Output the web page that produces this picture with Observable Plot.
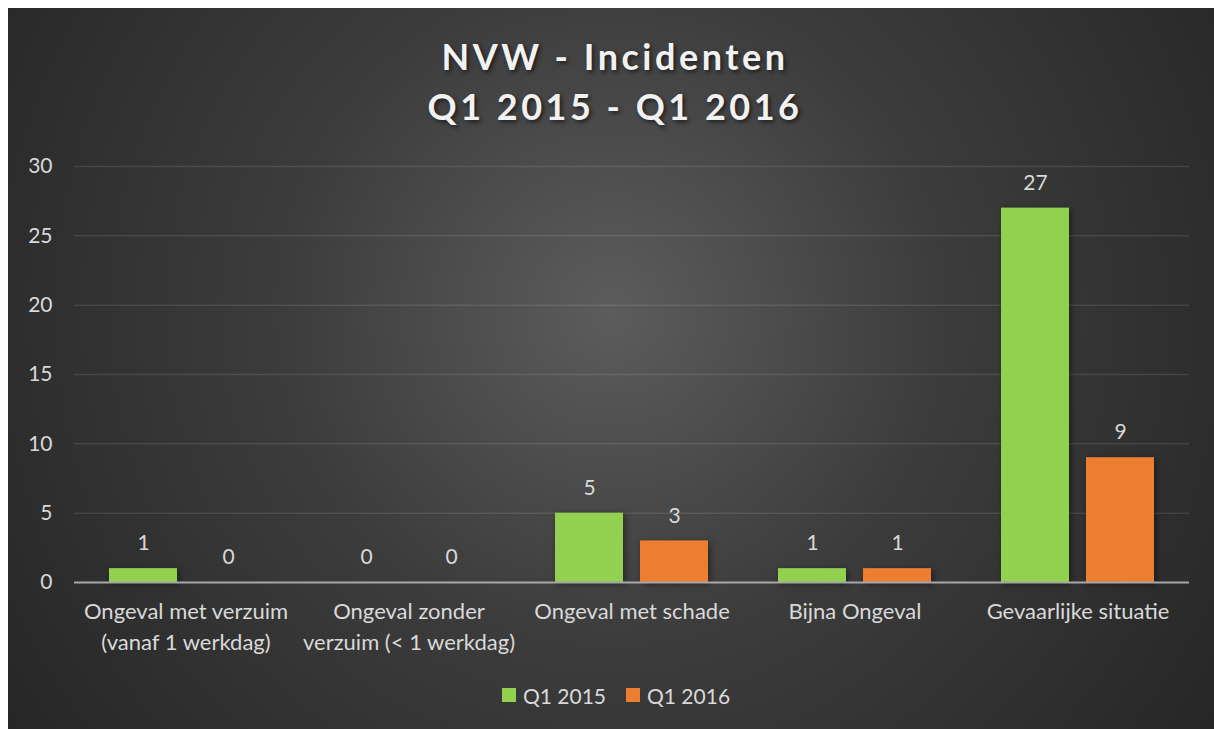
<!DOCTYPE html>
<html>
<head>
<meta charset="utf-8">
<script src="https://cdn.jsdelivr.net/npm/d3@7"></script>
<script src="https://cdn.jsdelivr.net/npm/@observablehq/plot@0.6"></script>
<style>
  html, body { margin: 0; padding: 0; background: #ffffff; }
  #panel {
    position: absolute; left: 8px; top: 8px; width: 1206px; height: 721px;
    background: radial-gradient(circle farthest-corner at 50% 42%, #5c5c5c 0%, #3c3c3c 45%, #262626 100%);
    overflow: hidden;
    font-family: Lato, "Open Sans", sans-serif;
  }
  #title {
    position: absolute; left: 4px; top: 23px; width: 100%; text-align: center;
    color: #f2f2f2; font-weight: bold; font-size: 36px; letter-spacing: 3.5px; line-height: 50px;
    text-shadow: 2px 2px 4px rgba(0,0,0,0.6);
  }
  #chart { position: absolute; left: 0; top: 130px; }
  #legend {
    position: absolute; left: 5px; top: 673px; width: 100%; text-align: center;
    color: #d9d9d9; font-size: 21px; white-space: nowrap;
  }
  #legend .item { display: inline-flex; align-items: center; margin: 0 10px; }
  #legend .sw { width: 14px; height: 14px; display: inline-block; margin-right: 7px; }
  #chart svg .bars { filter: drop-shadow(2px 2px 3px rgba(0,0,0,0.45)); }
</style>
</head>
<body>
<div id="panel">
  <div id="title">NVW - Incidenten<br>Q1 2015 - Q1 2016</div>
  <div id="chart"></div>
  <div id="legend"></div>
</div>
<script>
const categories = ["Ongeval met verzuim (vanaf 1 werkdag)", "Ongeval zonder verzuim (< 1 werkdag)", "Ongeval met schade", "Bijna Ongeval", "Gevaarlijke situatie"];
const categoryLabels = ["Ongeval met verzuim\n(vanaf 1 werkdag)", "Ongeval zonder\nverzuim (< 1 werkdag)", "Ongeval met schade", "Bijna Ongeval", "Gevaarlijke situatie"];
const series = ["Q1 2015", "Q1 2016"];
const valuesQ1_2015 = [1, 0, 5, 1, 27];
const valuesQ1_2016 = [0, 0, 3, 1, 9];
const colors = ["#92d050", "#ed7d31"];
const yTicks = [0, 5, 10, 15, 20, 25, 30];

const data = [];
categories.forEach((c, i) => {
  data.push({category: c, series: series[0], value: valuesQ1_2015[i]});
  data.push({category: c, series: series[1], value: valuesQ1_2016[i]});
});
const labelOf = new Map(categories.map((c, i) => [c, categoryLabels[i]]));

const plot = Plot.plot({
  width: 1206,
  height: 535,
  marginTop: 28,
  marginBottom: 91,
  marginLeft: 65,
  marginRight: 25,
  style: {background: "transparent", color: "#d9d9d9", fontFamily: "Lato, 'Open Sans', sans-serif", fontSize: "21px"},
  fx: {domain: categories, paddingInner: 0, paddingOuter: 0, label: null},
  x: {domain: series, paddingInner: 0.198, paddingOuter: 0.397, axis: null},
  y: {domain: [0, 30], label: null},
  color: {domain: series, range: colors},
  marks: [
    Plot.gridY(yTicks, {stroke: "#ffffff", strokeOpacity: 0.1, strokeWidth: 1.5}),
    Plot.axisY(yTicks, {tickSize: 0, tickPadding: 22, fontSize: 21, fill: "#d9d9d9", label: null}),
    Plot.axisFx({anchor: "bottom", tickSize: 0, tickPadding: 14, fontSize: 22, fill: "#d9d9d9", lineHeight: 1.41, tickFormat: d => labelOf.get(d), label: null}),
    Plot.barY(data, {fx: "category", x: "series", y: "value", fill: "series", className: "bars"}),
    Plot.ruleY([0], {stroke: "#a6a6a6", strokeWidth: 2}),
    Plot.text(data, {fx: "category", x: "series", y: "value", text: d => String(d.value), dy: -25, fill: "#d9d9d9", fontSize: 21})
  ]
});
document.getElementById("chart").appendChild(plot);

const legend = document.getElementById("legend");
series.forEach((s, i) => {
  const item = document.createElement("span");
  item.className = "item";
  const sw = document.createElement("span");
  sw.className = "sw";
  sw.style.background = colors[i];
  item.appendChild(sw);
  item.appendChild(document.createTextNode(s));
  legend.appendChild(item);
});
</script>
</body>
</html>
